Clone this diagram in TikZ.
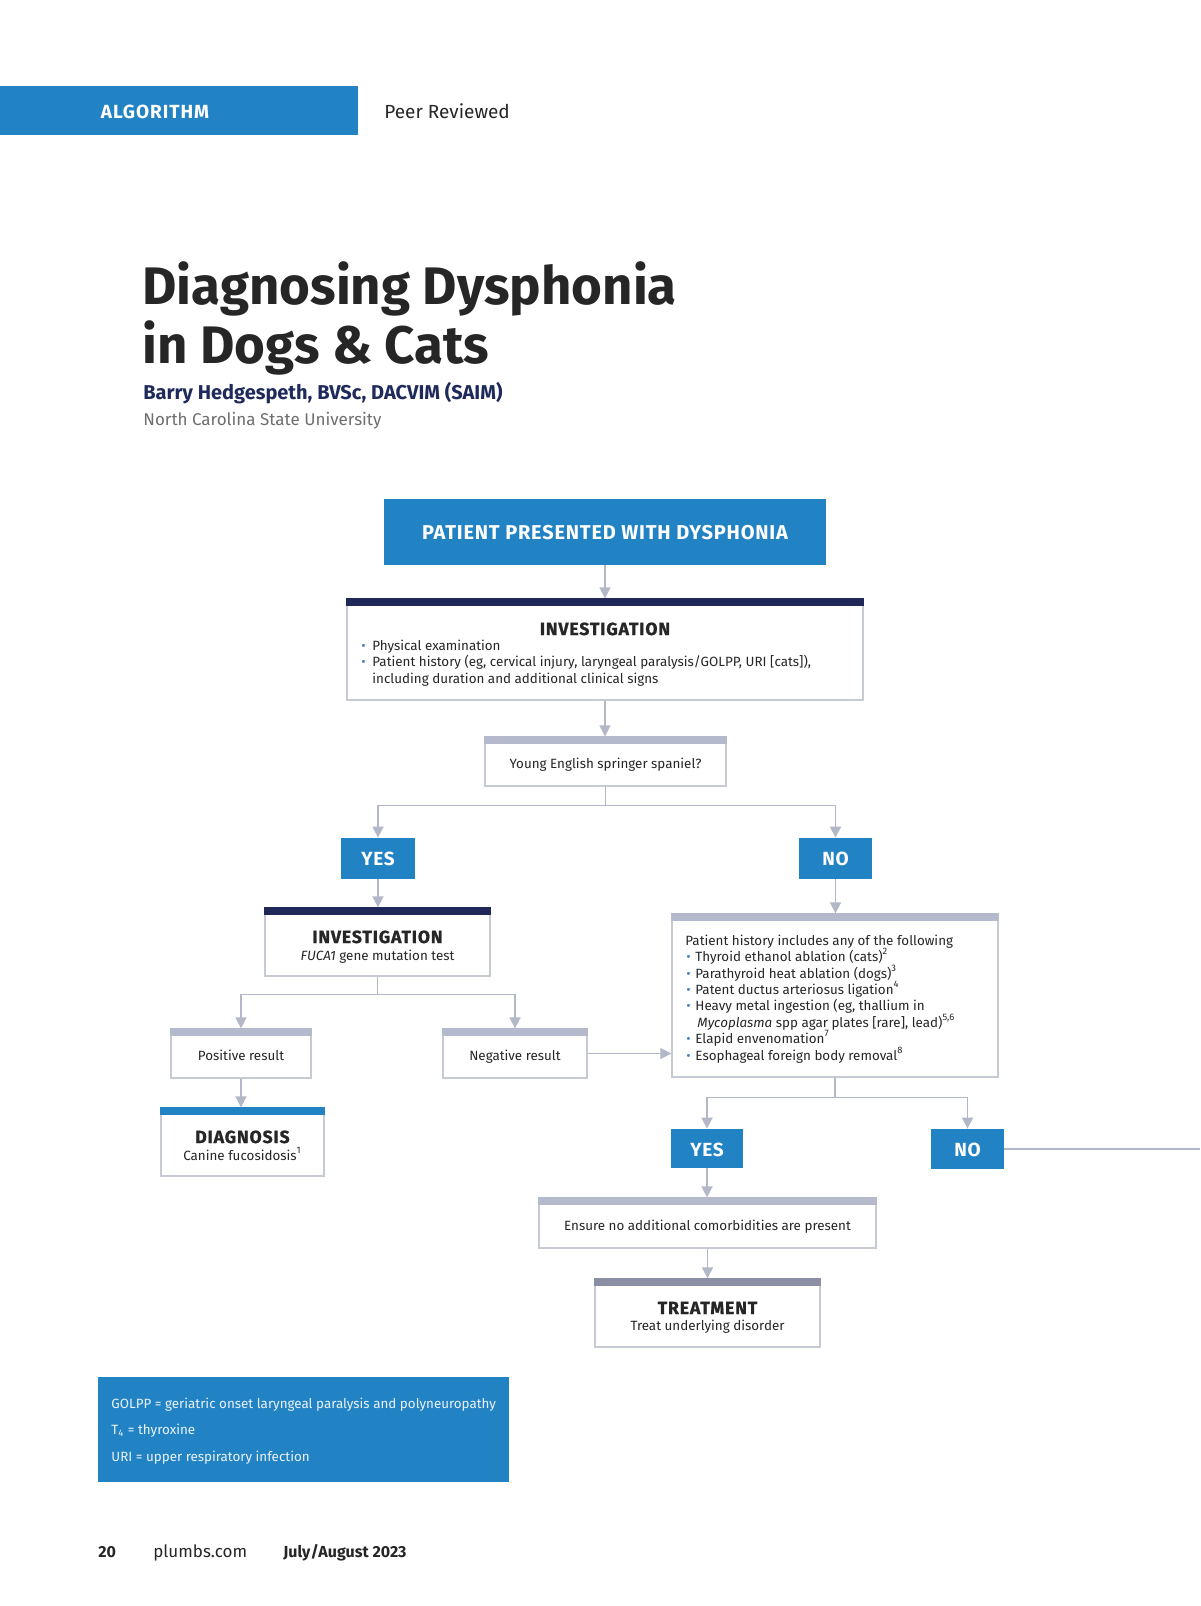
\documentclass[tikz,border=0pt]{standalone}
\usepackage{fontspec}
\setmainfont{Fira Sans}
\newfontfamily\spaced{Fira Sans}[LetterSpace=5]
\newfontfamily\spacedsm{Fira Sans}[LetterSpace=4]
\newfontfamily\heavy{Fira Sans Bold}[LetterSpace=5,FakeBold=1]
\usetikzlibrary{arrows.meta,fit}
\definecolor{brand}{HTML}{2283C4}
\definecolor{navy}{HTML}{1F2858}
\definecolor{bandgray}{HTML}{B4BACB}
\definecolor{bandtreat}{HTML}{8B8FA6}
\definecolor{boxline}{HTML}{C6CAD3}
\definecolor{arrowc}{HTML}{B2B8C8}
\definecolor{ink}{HTML}{262626}
\definecolor{bulc}{HTML}{4A86C5}
\definecolor{authorc}{HTML}{1F2A5C}
\definecolor{grayt}{HTML}{6E6E6E}
\definecolor{legt}{HTML}{EAF2FA}
\newcommand\bulA{\makebox[5.5pt][l]{\textcolor{bulc}{\textbullet}}}
\newcommand\bulB{\makebox[4.5pt][l]{\textcolor{bulc}{\textbullet}}}
\begin{document}
\begin{tikzpicture}[x=0.5pt,y=-0.5pt,
  box/.style={draw=boxline,line width=0.65pt,fill=white,inner sep=0pt},
  bluebox/.style={fill=brand,inner sep=0pt},
  conn/.style={draw=arrowc,line width=0.8pt},
  arr/.style={conn,-{Triangle[width=5.5pt,length=5.5pt]}},
  txt/.style={inner sep=0pt,anchor=base west,text=ink,font=\fontsize{6.7}{8.2}\selectfont},
  ctxt/.style={txt,anchor=base},
  head/.style={inner sep=0pt,anchor=base,text=ink,font=\fontsize{8.8}{9}\heavy},
  yn/.style={inner sep=0pt,anchor=base,text=white,font=\fontsize{9.5}{10}\spacedsm\bfseries},
  legtxt/.style={txt,text=legt},
]
\fill[white] (0,0) rectangle (1200,1606);
\useasboundingbox (0,0) rectangle (1200,1606);

% header
\node[bluebox,fit={(0,86)(358,135)}] (hdr) {};
\node[inner sep=0pt,anchor=base,text=white,font=\fontsize{9.5}{10}\spaced\bfseries] (hdrtxt) at (155,118) {ALGORITHM};
\node[inner sep=0pt,anchor=base west,text=ink,font=\fontsize{9.5}{11}\selectfont] (peer) at (384,118) {Peer Reviewed};

% title
\node[inner sep=0pt,anchor=base west,text=ink,font=\fontsize{26.4}{30}\bfseries] (t1) at (142,304) {Diagnosing Dysphonia};
\node[inner sep=0pt,anchor=base west,text=ink,font=\fontsize{26.4}{30}\bfseries] (t2) at (142,363) {in Dogs \& Cats};
\node[inner sep=0pt,anchor=base west,text=authorc,font=\fontsize{10}{11}\bfseries] (author) at (143,399) {Barry Hedgespeth, BVSc, DACVIM (SAIM)};
\node[inner sep=0pt,anchor=base west,text=grayt,font=\fontsize{8.5}{10}\selectfont] (univ) at (143,425) {North Carolina State University};

% patient
\node[bluebox,fit={(384,499)(826,565)}] (patient) {};
\node[inner sep=0pt,anchor=base,text=white,font=\fontsize{10}{11}\spacedsm\bfseries] (patienttxt) at (605,539) {PATIENT PRESENTED WITH DYSPHONIA};

% investigation 1
\node[box,fit={(347,599)(863,700)}] (inv1) {};
\fill[navy] (inv1.north west) rectangle ([yshift=-4pt]inv1.north east);
\node[head] (inv1h) at (605,635) {INVESTIGATION};
\node[txt] (inv1a) at (361,650) {\bulA Physical examination};
\node[txt] (inv1b) at (361,666) {\bulA Patient history (eg, cervical injury, laryngeal paralysis/GOLPP, URI [cats]),};
\node[txt] (inv1c) at (372,683) {including duration and additional clinical signs};

% young
\node[box,fit={(485,737)(726,786)}] (young) {};
\fill[bandgray] (young.north west) rectangle ([yshift=-4pt]young.north east);
\node[ctxt] (youngt) at (605.5,768) {Young English springer spaniel?};

% yes / no 1
\node[bluebox,fit={(341,838)(415,879)}] (yes1) {};
\node[yn] (yes1t) at (378,865) {YES};
\node[bluebox,fit={(799,838)(872,879)}] (no1) {};
\node[yn] (no1t) at (835.5,865) {NO};

% investigation 2
\node[box,fit={(265,908)(490,976)}] (inv2) {};
\fill[navy] (inv2.north west) rectangle ([yshift=-4pt]inv2.north east);
\node[head] (inv2h) at (377.5,943) {INVESTIGATION};
\node[ctxt] (inv2t) at (377.5,960) {\textit{FUCA1} gene mutation test};

% positive / negative
\node[box,fit={(171,1029)(311,1078)}] (pos) {};
\fill[bandgray] (pos.north west) rectangle ([yshift=-4pt]pos.north east);
\node[ctxt] (post) at (241,1060) {Positive result};
\node[box,fit={(443,1029)(587,1078)}] (neg) {};
\fill[bandgray] (neg.north west) rectangle ([yshift=-4pt]neg.north east);
\node[ctxt] (negt) at (515,1060) {Negative result};

% diagnosis
\node[box,fit={(161,1108)(324,1176)}] (diag) {};
\fill[brand] (diag.north west) rectangle ([yshift=-4pt]diag.north east);
\node[head] (diagh) at (242.5,1143) {DIAGNOSIS};
\node[ctxt] (diagt) at (242.5,1160) {Canine fucosidosis\textsuperscript{1}};

% history
\node[box,fit={(672,914)(998,1077)}] (hist) {};
\fill[bandgray] (hist.north west) rectangle ([yshift=-4pt]hist.north east);
\node[txt] (h0) at (685,945) {Patient history includes any of the following};
\node[txt] (h1) at (686,961) {\bulB Thyroid ethanol ablation (cats)\textsuperscript{2}};
\node[txt] (h2) at (686,978) {\bulB Parathyroid heat ablation (dogs)\textsuperscript{3}};
\node[txt] (h3) at (686,994) {\bulB Patent ductus arteriosus ligation\textsuperscript{4}};
\node[txt] (h4) at (686,1010) {\bulB Heavy metal ingestion (eg, thallium in};
\node[txt] (h5) at (697,1027) {\textit{Mycoplasma} spp agar plates [rare], lead)\textsuperscript{5,6}};
\node[txt] (h6) at (686,1043) {\bulB Elapid envenomation\textsuperscript{7}};
\node[txt] (h7) at (686,1060) {\bulB Esophageal foreign body removal\textsuperscript{8}};

% yes / no 2
\node[bluebox,fit={(671,1129)(743,1168)}] (yes2) {};
\node[yn] (yes2t) at (707,1156) {YES};
\node[bluebox,fit={(931,1129)(1004,1169)}] (no2) {};
\node[yn] (no2t) at (967.5,1156) {NO};

% ensure
\node[box,fit={(539,1198)(876,1248)}] (ens) {};
\fill[bandgray] (ens.north west) rectangle ([yshift=-4pt]ens.north east);
\node[ctxt] (enst) at (707.5,1230) {Ensure no additional comorbidities are present};

% treatment
\node[box,fit={(595,1279)(820,1347)}] (treat) {};
\fill[bandtreat] (treat.north west) rectangle ([yshift=-4pt]treat.north east);
\node[head] (treath) at (707.5,1314) {TREATMENT};
\node[ctxt] (treatt) at (707.5,1330) {Treat underlying disorder};

% legend
\node[bluebox,fit={(98,1377)(509,1482)}] (legend) {};
\node[legtxt] (l1) at (111,1408) {GOLPP = geriatric onset laryngeal paralysis and polyneuropathy};
\node[legtxt] (l2) at (111,1434) {T\textsubscript{4} = thyroxine};
\node[legtxt] (l3) at (111,1461) {URI = upper respiratory infection};

% footer
\node[inner sep=0pt,anchor=base west,text=ink,font=\fontsize{8}{9}\bfseries] (pg) at (98,1557) {20};
\node[inner sep=0pt,anchor=base west,text=ink,font=\fontsize{8.5}{10}\selectfont] (site) at (153,1557) {plumbs.com};
\node[inner sep=0pt,anchor=base west,text=ink,font=\fontsize{8}{9}\bfseries] (issue) at (283,1557) {July/August 2023};

% connectors
\draw[arr] (patient.south) -- (patient.south |- inv1.north);
\draw[arr] (inv1.south) -- (inv1.south |- young.north);
\draw[arr] (young.south) -- ++(0,19) -| (yes1.north);
\draw[arr] (young.south) -- ++(0,19) -| (no1.north);
\draw[arr] (yes1.south) -- (yes1.south |- inv2.north);
\draw[arr] (no1.south) -- (no1.south |- hist.north);
\draw[arr] (inv2.south) -- ++(0,18) -| (pos.north);
\draw[arr] (inv2.south) -- ++(0,18) -| (neg.north);
\draw[arr] (pos.south) -- (pos.south |- diag.north);
\draw[arr] (neg.east) -- (neg.east -| hist.west);
\draw[arr] (hist.south) -- ++(0,20) -| (yes2.north);
\draw[arr] (hist.south) -- ++(0,20) -| (no2.north);
\coordinate (edge) at (1200,1149);
\draw[conn] (no2.east) -- (no2.east -| edge);
\draw[arr] (yes2.south) -- (yes2.south |- ens.north);
\draw[arr] (ens.south) -- (ens.south |- treat.north);
\end{tikzpicture}
\end{document}
